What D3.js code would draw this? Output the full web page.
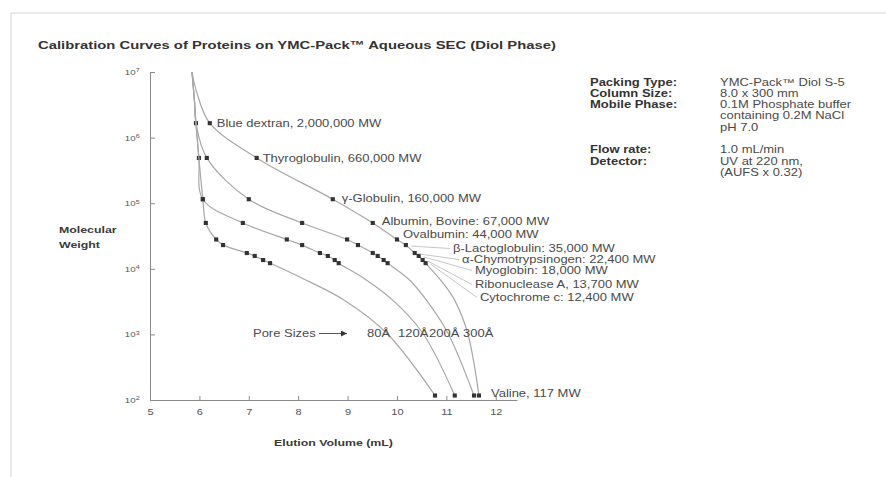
<!DOCTYPE html>
<html>
<head>
<meta charset="utf-8">
<script src="https://cdn.jsdelivr.net/npm/d3@7"></script>
<style>
  body { margin: 0; background: #fff; }
  svg { display: block; font-family: "Liberation Sans", Arial, sans-serif; }
</style>
</head>
<body>
<div id="chart"></div>
<script>
// proteins, from the top row of markers to the bottom one
const proteinLabels = [
  "Blue dextran, 2,000,000 MW",
  "Thyroglobulin, 660,000 MW",
  "γ-Globulin, 160,000 MW",
  "Albumin, Bovine: 67,000 MW",
  "Ovalbumin: 44,000 MW",
  "β-Lactoglobulin: 35,000 MW",
  "α-Chymotrypsinogen: 22,400 MW",
  "Myoglobin: 18,000 MW",
  "Ribonuclease A, 13,700 MW",
  "Cytochrome c: 12,400 MW",
  "Valine, 117 MW"
];
// MW at which each marker row sits on the plot
const plotMW = [1.66e6, 4.9e5, 1.15e5, 5.0e4, 2.8e4, 2.3e4, 1.74e4, 1.57e4, 1.36e4, 1.22e4, 117];

// elution volume (mL) of each protein on each column, null = no marker
const elution300 = [6.21, 7.16, 8.70, 9.51, 10.0, 10.18, 10.36, 10.44, 10.52, 10.58, 11.66];
const elution200 = [5.93, 6.15, 7.00, 8.08, 8.99, 9.21, 9.51, 9.61, 9.73, 9.81, 11.56];
const elution120 = [null, 5.99, 6.07, 6.88, 7.77, 8.08, 8.44, 8.60, 8.74, 8.82, 11.17];
const elution80 = [null, null, 6.07, 6.13, 6.34, 6.48, 6.96, 7.12, 7.29, 7.43, 10.77];

// extra points the curves pass through [mL, MW]
const shape300 = [[5.85, 1e7], [5.95, 4.8e6], [10.97, 5.6e3], [11.17, 3.3e3], [11.43, 1.05e3]];
const shape200 = [[5.85, 1e7], [5.9, 3.6e6], [10.26, 6.7e3], [10.6, 3.3e3], [11.03, 1.05e3]];
const shape120 = [[5.85, 1e7], [5.9, 3.6e6], [5.93, 1.66e6], [9.35, 7.0e3], [9.92, 3.3e3], [10.52, 1.05e3]];
const shape80 = [[5.85, 1e7], [5.9, 3.6e6], [5.93, 1.66e6], [5.99, 4.9e5], [8.03, 7.5e3], [8.94, 3.3e3], [9.79, 1.05e3]];

const poreSizes = ["80Å", "120Å", "200Å", "300Å"];
const xTicks = [5, 6, 7, 8, 9, 10, 11, 12];
const yTicks = [1e2, 1e3, 1e4, 1e5, 1e6, 1e7];

const conditionKeys = ["Packing Type:", "Column Size:", "Mobile Phase:", "", "", "", "Flow rate:", "Detector:", ""];
const conditionValues = ["YMC-Pack™ Diol S-5", "8.0 x 300 mm", "0.1M Phosphate buffer",
  "containing 0.2M NaCl", "pH 7.0", "", "1.0 mL/min", "UV at 220 nm,", "(AUFS x 0.32)"];

const SX = 1.3; // the lettering in the picture is stretched sideways

function addText(parent, str, px, py, opts = {}) {
  return parent.append("text")
    .attr("transform", `translate(${px},${py}) scale(${SX},1)`)
    .attr("font-size", opts.size || 10)
    .attr("font-weight", opts.weight || "normal")
    .attr("text-anchor", opts.anchor || "start")
    .attr("fill", opts.fill || "#4a4a4a")
    .text(str);
}

function createChart() {
  const svg = d3.select("#chart").append("svg")
    .attr("width", 886)
    .attr("height", 477);

  // frame
  svg.append("path")
    .attr("d", "M11,477V13H886")
    .attr("fill", "none")
    .attr("stroke", "#d4d4d4");

  addText(svg, "Calibration Curves of Proteins on YMC-Pack™ Aqueous SEC (Diol Phase)", 38, 49,
    { size: 11.4, weight: "bold", fill: "#333" });

  const x = d3.scaleLinear().domain([5, 12.43]).range([150, 517]);
  const y = d3.scaleLog().domain([1e2, 1e7]).range([400, 72]);

  // axes
  svg.append("g")
    .attr("transform", `translate(0,${y(1e2)})`)
    .attr("color", "#8a8a8a")
    .call(d3.axisBottom(x).tickValues(xTicks).tickSizeInner(-4).tickSizeOuter(0).tickPadding(9))
    .call((g) => g.attr("font-family", null))
    .call((g) => g.selectAll("text")
      .attr("transform", `scale(${SX},1)`)
      .attr("font-size", 8.5)
      .attr("fill", "#555"));

  svg.append("g")
    .attr("transform", `translate(${x(5)},0)`)
    .attr("color", "#8a8a8a")
    .call(d3.axisLeft(y).tickValues(yTicks).tickSizeInner(-5).tickSizeOuter(0).tickPadding(8)
      .tickFormat(() => "10"))
    .call((g) => g.attr("font-family", null))
    .call((g) => g.selectAll("text")
      .attr("transform", `scale(${SX},1)`)
      .attr("font-size", 7.5)
      .attr("fill", "#555")
      .each(function (d) {
        d3.select(this).append("tspan")
          .attr("dy", "-0.45em")
          .attr("font-size", 5.5)
          .text(Math.round(Math.log10(d)));
      }));

  addText(svg, "Elution Volume (mL)", 274, 446, { weight: "bold", size: 9.5, fill: "#3a3a3a" });
  addText(svg, "Molecular", 59, 233, { weight: "bold", size: 9.5, fill: "#3a3a3a" });
  addText(svg, "Weight", 59, 248, { weight: "bold", size: 9.5, fill: "#3a3a3a" });

  // calibration curves
  const columns = [
    { elution: elution300, shape: shape300 },
    { elution: elution200, shape: shape200 },
    { elution: elution120, shape: shape120 },
    { elution: elution80, shape: shape80 }
  ];

  const line = d3.line()
    .x((d) => x(d[0]))
    .y((d) => y(d[1]))
    .curve(d3.curveCatmullRom.alpha(0.5));

  columns.forEach((col) => {
    const marks = col.elution
      .map((v, i) => [v, plotMW[i]])
      .filter((d) => d[0] !== null);
    const pts = marks.concat(col.shape).sort((a, b) => b[1] - a[1]);

    svg.append("path")
      .datum(pts)
      .attr("d", line)
      .attr("fill", "none")
      .attr("stroke", "#a8a8a8")
      .attr("stroke-width", 1.2);

    svg.selectAll(null)
      .data(marks)
      .enter()
      .append("path")
      .attr("d", d3.symbol(d3.symbolSquare, 17))
      .attr("transform", (d) => `translate(${x(d[0])},${y(d[1])})`)
      .attr("fill", "#333");
  });

  // protein labels next to the 300Å curve
  const labelG = svg.append("g");
  const nearOffset = [[7, 4], [6, 4], [9, 3], [9, 2], [6, -1]];
  nearOffset.forEach((o, i) => {
    addText(labelG, proteinLabels[i], x(elution300[i]) + o[0], y(plotMW[i]) + o[1]);
  });

  // fanned labels with leader lines
  const fanEnds = { 5: [453, 252], 6: [462, 263], 7: [475, 274], 8: [475, 288], 9: [480, 301] };
  Object.keys(fanEnds).forEach((k) => {
    const i = +k;
    const [lx, ly] = fanEnds[i];
    labelG.append("line")
      .attr("x1", x(elution300[i]) + 5)
      .attr("y1", y(plotMW[i]) + 1)
      .attr("x2", lx - 3)
      .attr("y2", ly - 3.5)
      .attr("stroke", "#b8b8b8")
      .attr("stroke-width", 0.8);
    addText(labelG, proteinLabels[i], lx, ly);
  });

  addText(labelG, proteinLabels[10], x(elution300[10]) + 12, y(plotMW[10]) + 1);

  // pore size callout
  addText(svg, "Pore Sizes", 253, 337);
  svg.append("defs").append("marker")
    .attr("id", "arrow")
    .attr("viewBox", "0 0 10 10")
    .attr("refX", 10)
    .attr("refY", 5)
    .attr("markerWidth", 9)
    .attr("markerHeight", 6)
    .attr("orient", "auto")
    .append("path")
    .attr("d", "M0,0L10,5L0,10z")
    .attr("fill", "#333");
  svg.append("line")
    .attr("x1", 319).attr("y1", 333.5)
    .attr("x2", 347).attr("y2", 333.5)
    .attr("stroke", "#555")
    .attr("marker-end", "url(#arrow)");
  const poreX = [367, 398, 429, 463];
  poreSizes.forEach((p, i) => addText(svg, p, poreX[i], 337));

  // conditions panel
  conditionKeys.forEach((k, i) => {
    const ry = 85.5 + i * 11.3;
    if (k) addText(svg, k, 590, ry, { weight: "bold", fill: "#333" });
    if (conditionValues[i]) addText(svg, conditionValues[i], 720, ry);
  });
}

createChart();
</script>
</body>
</html>
